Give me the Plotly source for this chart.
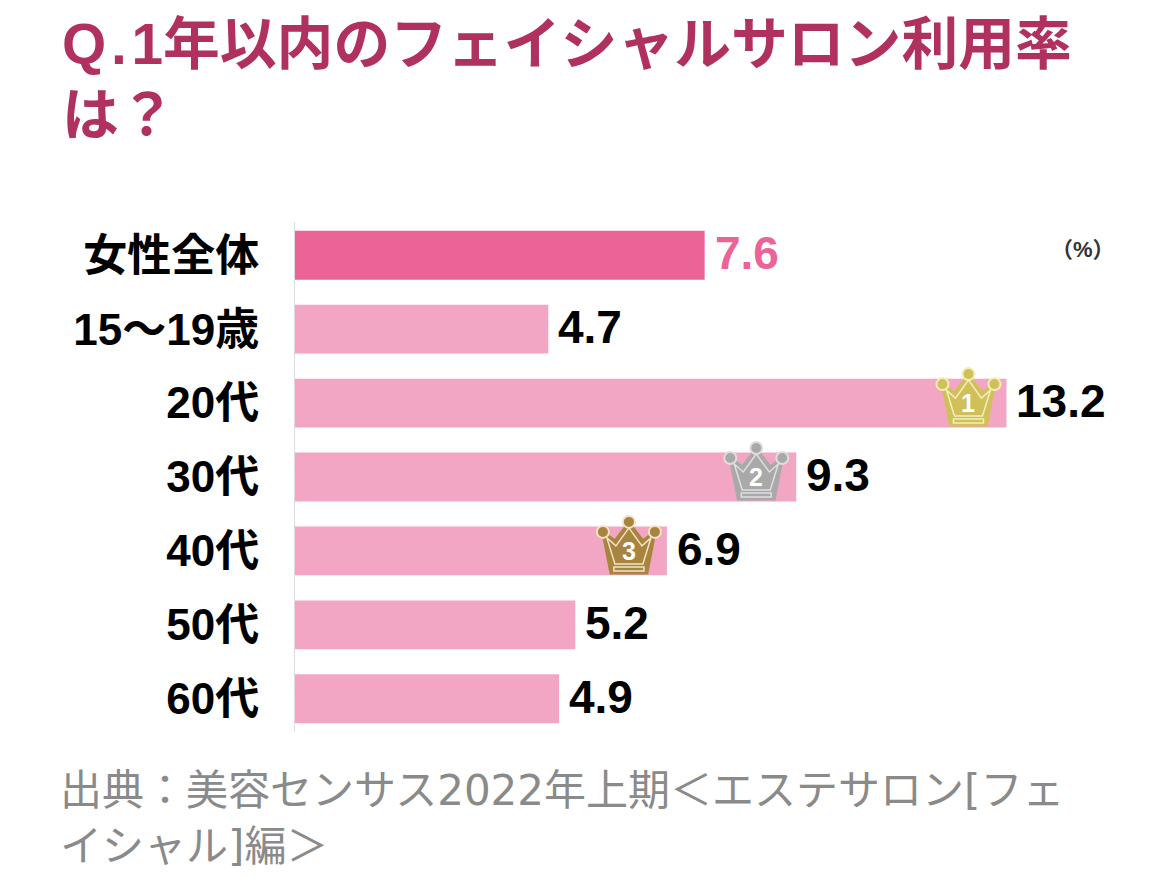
import plotly.graph_objects as go

# Data
categories = ["女性全体", "15～19歳", "20代", "30代", "40代", "50代", "60代"]
values = [7.6, 4.7, 13.2, 9.3, 6.9, 5.2, 4.9]
value_labels = ["7.6", "4.7", "13.2", "9.3", "6.9", "5.2", "4.9"]
ranked_categories = ["20代", "30代", "40代"]
rank_labels = ["1", "2", "3"]

title_lines = ["Q\u200a.\u200a1年以内のフェイシャルサロン利用率", "は？"]
source_lines = ["出典：美容センサス2022年上期＜エステサロン[フェ", "イシャル]編＞"]
unit_label = "（%）"

# Styles
TITLE_COLOR = "#B0305F"
TOTAL_COLOR = "#EB6397"
BAR_COLOR = "#F3A6C4"
SOURCE_COLOR = "#8A8A8A"
AXIS_COLOR = "#DCDCDC"
FONT = "Liberation Sans, Noto Sans CJK JP, sans-serif"
SOURCE_FONT = "DejaVu Sans, Noto Sans CJK JP, sans-serif"
crown_colors = ["#CFC05A", "#A9A9A9", "#A8843F"]
crown_edges = ["#F4EFB8", "#DEDEDE", "#F2E3C4"]
crown_shifts = [-38, -40, -38]

# The page body adds 8px around the figure
PAGE_MARGIN = 8
FIG_W = 1171 - 2 * PAGE_MARGIN
FIG_H = 878 - 2 * PAGE_MARGIN
M_L, M_R, M_T, M_B = 287, 11, 214, 138
PLOT_W = FIG_W - M_L - M_R
PLOT_H = FIG_H - M_T - M_B


def paper_x(px):
    return (px - PAGE_MARGIN - M_L) / PLOT_W


def paper_y(px):
    return (FIG_H - M_B - (px - PAGE_MARGIN)) / PLOT_H


# Crown outline in pixels around the anchor, shifted per crown
def crown_path(points, shift):
    cmds = ["M"] + ["L"] * (len(points) - 1)
    segs = [f"{c} {x + shift} {y}" for c, (x, y) in zip(cmds, points)]
    return " ".join(segs) + " Z"


CROWN_BODY = [(-26, 19), (-14, 10), (0, 28), (14, 10), (26, 19), (18, -22), (-18, -22)]
CROWN_INNER = [(-22, 13), (-13, 5), (0, 23), (13, 5), (22, 13), (14, -13), (-14, -13)]
CROWN_BAND = [(-15, -16), (15, -16), (15, -20), (-15, -20)]
CROWN_BALLS = [(0, 29, 6), (-26, 19, 6), (26, 19, 6)]

fig = go.Figure()

bar_colors = [TOTAL_COLOR] + [BAR_COLOR] * (len(categories) - 1)
text_colors = [TOTAL_COLOR] + ["#000000"] * (len(categories) - 1)

fig.add_trace(go.Bar(
    x=values,
    y=categories,
    orientation="h",
    marker=dict(color=bar_colors, line=dict(width=0)),
    hoverinfo="skip",
))

# Value labels next to the bars
for cat, val, label, color in zip(categories, values, value_labels, text_colors):
    fig.add_annotation(x=val, y=cat, text=label, showarrow=False, xanchor="left", xshift=8, yshift=2,
                       font=dict(family=FONT, size=46, color=color, weight=700))


# Draw one crown, anchored on the end of its bar
def add_crown(category, rank, color, edge, shift):
    value = values[categories.index(category)]
    common = dict(xref="x", yref="y", xsizemode="pixel", ysizemode="pixel",
                  xanchor=value, yanchor=category)
    fig.add_shape(type="path", path=crown_path(CROWN_BODY, shift), fillcolor=color,
                  line=dict(color=color, width=3), **common)
    fig.add_shape(type="path", path=crown_path(CROWN_INNER, shift), fillcolor=color,
                  line=dict(color=edge, width=1.5), **common)
    fig.add_shape(type="path", path=crown_path(CROWN_BAND, shift), fillcolor=color,
                  line=dict(color=edge, width=1.5), **common)
    for cx, cy, r in CROWN_BALLS:
        fig.add_shape(type="circle", x0=cx + shift - r, x1=cx + shift + r, y0=cy - r, y1=cy + r,
                      fillcolor=color, line=dict(color=edge, width=2), **common)
    fig.add_annotation(x=value, y=category, text=rank, showarrow=False, xshift=shift, yshift=0,
                       font=dict(family=FONT, size=25, color="#FFFFFF", weight=700))


for i, cat in enumerate(ranked_categories):
    add_crown(cat, rank_labels[i], crown_colors[i], crown_edges[i], crown_shifts[i])

# Title, source and unit sit outside the plot area, one annotation per line
for line, ypx in zip(title_lines, [45, 115]):
    fig.add_annotation(x=paper_x(60), y=paper_y(ypx), xref="paper", yref="paper", text=line,
                       showarrow=False, xanchor="left", yanchor="middle",
                       font=dict(family=FONT, size=56.8, color=TITLE_COLOR, weight=700))

for line, ypx in zip(source_lines, [790, 846]):
    fig.add_annotation(x=paper_x(58), y=paper_y(ypx), xref="paper", yref="paper", text=line,
                       showarrow=False, xanchor="left", yanchor="middle",
                       font=dict(family=SOURCE_FONT, size=42, color=SOURCE_COLOR))

fig.add_annotation(x=paper_x(1117), y=paper_y(249), xref="paper", yref="paper", text=unit_label,
                   showarrow=False, xanchor="right", yanchor="middle",
                   font=dict(family=FONT, size=22, color="#333333", weight=700))

fig.update_layout(
    width=FIG_W,
    height=FIG_H,
    margin=dict(l=M_L, r=M_R, t=M_T, b=M_B),
    paper_bgcolor="#FFFFFF",
    plot_bgcolor="#FFFFFF",
    showlegend=False,
    bargap=0.34,
    font=dict(family=FONT),
    xaxis=dict(range=[0, 15.9], visible=False, fixedrange=True),
    yaxis=dict(
        categoryorder="array",
        categoryarray=categories,
        range=[6.45, -0.45],
        showline=True,
        linecolor=AXIS_COLOR,
        linewidth=1,
        showgrid=False,
        zeroline=False,
        ticks="outside",
        ticklen=26,
        tickcolor="rgba(0,0,0,0)",
        tickfont=dict(family=FONT, size=44, color="#000000", weight=700),
        fixedrange=True,
    ),
)

fig.write_html("out.html")
